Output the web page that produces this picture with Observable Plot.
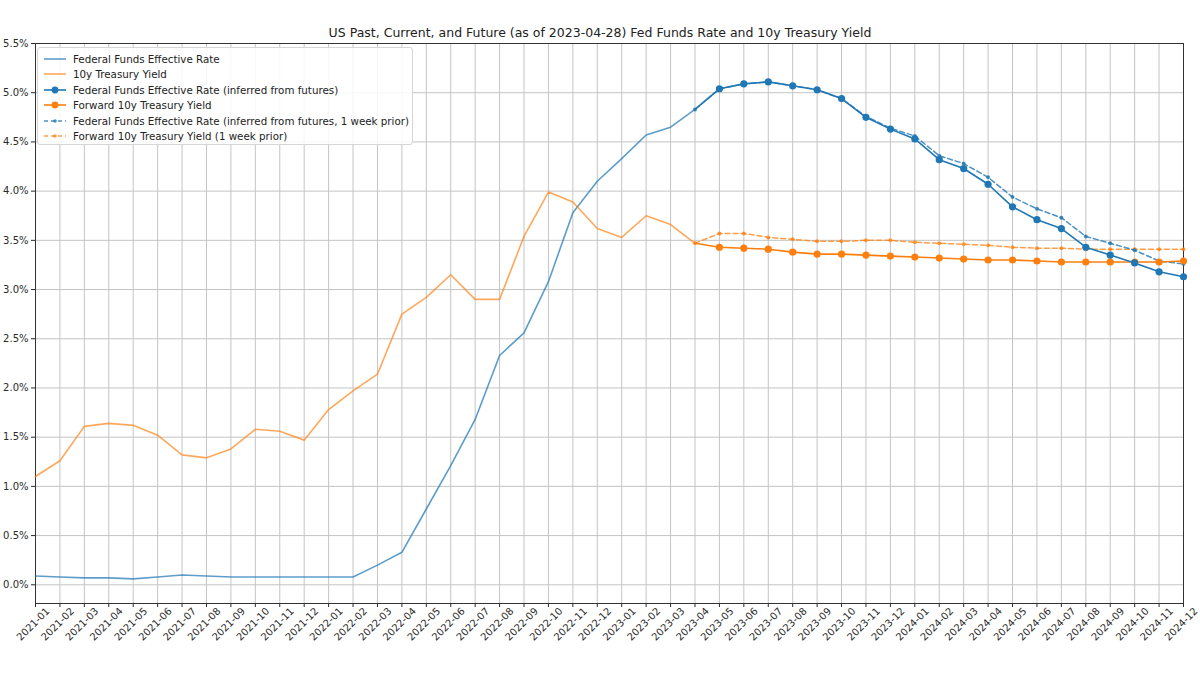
<!DOCTYPE html>
<html>
<head>
<meta charset="utf-8">
<script src="https://cdn.jsdelivr.net/npm/d3@7"></script>
<script src="https://cdn.jsdelivr.net/npm/@observablehq/plot@0.6"></script>
<style>
  html, body { margin: 0; padding: 0; background: #fff; }
  #wrap { position: relative; width: 1200px; height: 675px; background: #fff; font-family: "DejaVu Sans", sans-serif; overflow: hidden; }
  #title { height: 42px; box-sizing: border-box; padding-top: 25px; text-align: center; font-size: 12.5px; line-height: 15px; color: #222; }
  #legend { position: absolute; left: 37px; top: 47px; width: 376px; height: 98px; box-sizing: border-box; border: 1px solid #d6d6d6; border-radius: 3px; background: rgba(255,255,255,0.85); padding-top: 3px; }
  .entry { display: flex; align-items: center; height: 15.5px; font-size: 10.3px; color: #222; white-space: nowrap; }
  .entry svg { margin-left: 5px; margin-right: 6px; flex: none; }
</style>
</head>
<body>
<div id="wrap">
  <div id="title">US Past, Current, and Future (as of 2023-04-28) Fed Funds Rate and 10y Treasury Yield</div>
  <div id="chart"></div>
  <div id="legend"></div>
</div>
<script>
const months = ["2021-01","2021-02","2021-03","2021-04","2021-05","2021-06","2021-07","2021-08","2021-09","2021-10","2021-11","2021-12",
  "2022-01","2022-02","2022-03","2022-04","2022-05","2022-06","2022-07","2022-08","2022-09","2022-10","2022-11","2022-12",
  "2023-01","2023-02","2023-03","2023-04","2023-05","2023-06","2023-07","2023-08","2023-09","2023-10","2023-11","2023-12",
  "2024-01","2024-02","2024-03","2024-04","2024-05","2024-06","2024-07","2024-08","2024-09","2024-10","2024-11","2024-12"];

// History: 2021-01 .. 2023-04
const fedHist = [0.09,0.08,0.07,0.07,0.06,0.08,0.10,0.09,0.08,0.08,0.08,0.08,0.08,0.08,0.20,0.33,0.77,1.21,1.68,2.33,2.56,3.08,3.78,4.10,4.33,4.57,4.65,4.83];
const tsyHist = [1.10,1.26,1.61,1.64,1.62,1.52,1.32,1.29,1.38,1.58,1.56,1.47,1.78,1.97,2.14,2.75,2.92,3.15,2.90,2.90,3.54,3.99,3.89,3.62,3.53,3.75,3.66,3.47];

// Forward: 2023-04 .. 2024-12
const fedFwd   = [4.83,5.04,5.09,5.11,5.07,5.03,4.94,4.75,4.63,4.53,4.32,4.23,4.07,3.84,3.71,3.62,3.43,3.35,3.27,3.18,3.13];
const tsyFwd   = [3.47,3.43,3.42,3.41,3.38,3.36,3.36,3.35,3.34,3.33,3.32,3.31,3.30,3.30,3.29,3.28,3.28,3.28,3.28,3.28,3.29];
const fedPrior = [4.83,5.04,5.09,5.11,5.07,5.03,4.94,4.76,4.64,4.56,4.36,4.28,4.14,3.94,3.82,3.73,3.54,3.47,3.40,3.29,3.26];
const tsyPrior = [3.47,3.57,3.57,3.53,3.51,3.49,3.49,3.50,3.50,3.48,3.47,3.46,3.45,3.43,3.42,3.42,3.41,3.41,3.41,3.41,3.41];

const yTicks = [0,0.5,1,1.5,2,2.5,3,3.5,4,4.5,5,5.5];

const legendLabels = [
  "Federal Funds Effective Rate",
  "10y Treasury Yield",
  "Federal Funds Effective Rate (inferred from futures)",
  "Forward 10y Treasury Yield",
  "Federal Funds Effective Rate (inferred from futures, 1 week prior)",
  "Forward 10y Treasury Yield (1 week prior)"
];

const BLUE = "#1f77b4", ORANGE = "#ff7f0e";

const monthIdx = months.map((m, i) => i);
const hist = fedHist.map((v, i) => ({i, fed: v, tsy: tsyHist[i]}));
const fwdStart = fedHist.length - 1;
const fwd = fedFwd.map((v, k) => ({i: fwdStart + k, fed: v, tsy: tsyFwd[k], fedP: fedPrior[k], tsyP: tsyPrior[k], first: k === 0}));
const fwdDots = fwd.filter(d => !d.first);

const chart = Plot.plot({
  width: 1200,
  height: 632,
  marginLeft: 35,
  marginRight: 17,
  marginTop: 1,
  marginBottom: 71,
  style: {fontFamily: "DejaVu Sans, sans-serif", fontSize: "10px", color: "#2a2a2a", background: "white", overflow: "visible"},
  x: {type: "linear", domain: [0, months.length - 1], label: null},
  y: {domain: [-0.19, 5.5], label: null},
  marks: [
    Plot.gridX(monthIdx, {stroke: "#c4c4c4", strokeOpacity: 1, strokeWidth: 1}),
    Plot.gridY(yTicks, {stroke: "#c4c4c4", strokeOpacity: 1, strokeWidth: 1}),
    Plot.axisY({ticks: yTicks, tickFormat: d => d.toFixed(1) + "%", tickSize: 4, tickPadding: 3, label: null}),
    Plot.axisX({ticks: monthIdx, tickSize: 4, tickFormat: () => "", label: null}),
    Plot.text(monthIdx, {x: d => d, text: d => months[d], frameAnchor: "bottom", rotate: -45, textAnchor: "middle", dy: 23, fill: "#2a2a2a", fontSize: 10}),
    Plot.frame({stroke: "#333", strokeWidth: 1}),
    // history
    Plot.line(hist, {x: "i", y: "fed", stroke: BLUE, strokeOpacity: 0.72, strokeWidth: 1.6}),
    Plot.line(hist, {x: "i", y: "tsy", stroke: ORANGE, strokeOpacity: 0.68, strokeWidth: 1.6}),
    // 1 week prior (dashed)
    Plot.line(fwd, {x: "i", y: "tsyP", stroke: ORANGE, strokeOpacity: 0.75, strokeWidth: 1.5, strokeDasharray: "5,3"}),
    Plot.dot(fwd, {x: "i", y: "tsyP", fill: ORANGE, fillOpacity: 0.75, r: 2}),
    Plot.line(fwd, {x: "i", y: "fedP", stroke: BLUE, strokeOpacity: 0.8, strokeWidth: 1.5, strokeDasharray: "5,3"}),
    Plot.dot(fwd, {x: "i", y: "fedP", fill: BLUE, fillOpacity: 0.8, r: 2}),
    // forward
    Plot.line(fwd, {x: "i", y: "tsy", stroke: ORANGE, strokeWidth: 1.6}),
    Plot.dot(fwdDots, {x: "i", y: "tsy", fill: ORANGE, r: 3.6}),
    Plot.line(fwd, {x: "i", y: "fed", stroke: BLUE, strokeWidth: 1.6}),
    Plot.dot(fwdDots, {x: "i", y: "fed", fill: BLUE, r: 3.6})
  ]
});
document.getElementById("chart").appendChild(chart);

// legend
const styles = [
  {color: BLUE, op: 0.72, dash: null, r: 0},
  {color: ORANGE, op: 0.68, dash: null, r: 0},
  {color: BLUE, op: 1, dash: null, r: 3.4},
  {color: ORANGE, op: 1, dash: null, r: 3.4},
  {color: BLUE, op: 0.8, dash: "4,3", r: 1.8},
  {color: ORANGE, op: 0.75, dash: "4,3", r: 1.8}
];
const legend = document.getElementById("legend");
legendLabels.forEach((lab, i) => {
  const s = styles[i];
  const row = document.createElement("div");
  row.className = "entry";
  row.innerHTML = `<svg width="24" height="10"><line x1="1" y1="5" x2="23" y2="5" stroke="${s.color}" stroke-opacity="${s.op}" stroke-width="1.6" ${s.dash ? `stroke-dasharray="${s.dash}"` : ""}/>${s.r ? `<circle cx="12" cy="5" r="${s.r}" fill="${s.color}" fill-opacity="${s.op}"/>` : ""}</svg><span>${lab}</span>`;
  legend.appendChild(row);
});
</script>
</body>
</html>
